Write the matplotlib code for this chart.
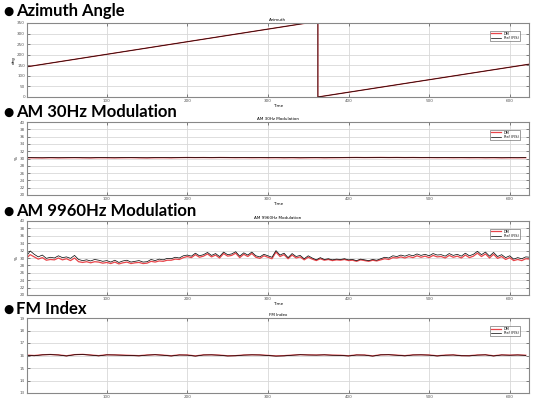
import numpy as np
import matplotlib
matplotlib.use("Agg")
import matplotlib.pyplot as plt

# ---- data ----
az_t = [1, 362, 362, 624]
az_ref = [143, 358, 0, 155]
az_meas = [143, 358, 0, 155]

t5 = np.arange(0, 630, 5)
am9960_meas = [30.4, 31.9, 31.0, 30.3, 30.8, 29.9, 30.2, 30.0, 30.6, 30.1,
               30.3, 29.9, 30.7, 29.6, 29.3, 29.5, 29.2, 29.6, 29.4, 29.1,
               29.3, 28.9, 29.4, 28.8, 29.2, 29.4, 28.9, 29.1, 29.3, 28.9,
               29.0, 29.6, 29.3, 29.7, 29.5, 29.9, 29.8, 30.2, 30.0, 30.6,
               30.8, 30.5, 31.3, 30.6, 30.9, 31.5, 30.7, 31.2, 30.4, 31.6,
               30.9, 31.1, 31.7, 30.5, 31.4, 30.8, 31.6, 30.6, 30.3, 31.0,
               30.6, 30.2, 32.0, 30.8, 31.3, 30.1, 31.2, 30.4, 30.7, 29.8,
               30.6, 30.0, 29.5, 30.1, 29.6, 29.8, 29.5, 29.7, 29.6, 29.8,
               29.5, 29.6, 29.3, 29.7, 29.5, 29.3, 29.6, 29.4, 29.8, 30.2,
               30.0, 30.6, 30.4, 30.8, 30.5, 30.9, 30.6, 31.1, 30.7, 31.0,
               30.6, 31.2, 30.8, 30.9, 30.5, 31.2, 30.7, 31.0, 30.5, 31.3,
               30.6, 31.0, 31.8, 30.9, 31.6, 30.5, 31.5, 30.4, 30.9, 30.1,
               30.6, 29.7, 30.1, 29.8, 30.3, 30.2]
am9960_ref = [29.9, 30.9, 30.3, 29.7, 30.1, 29.4, 29.6, 29.5, 30.0, 29.5,
              29.8, 29.3, 30.0, 29.0, 28.8, 29.0, 28.7, 29.0, 28.9, 28.6,
              28.8, 28.5, 28.9, 28.4, 28.7, 28.9, 28.5, 28.7, 28.8, 28.5,
              28.6, 29.1, 28.9, 29.2, 29.1, 29.4, 29.4, 29.7, 29.6, 30.1,
              30.4, 30.1, 30.9, 30.2, 30.5, 31.1, 30.3, 30.8, 30.0, 31.2,
              30.5, 30.7, 31.3, 30.1, 31.0, 30.4, 31.2, 30.2, 29.9, 30.6,
              30.2, 29.8, 31.6, 30.4, 30.9, 29.8, 30.8, 30.0, 30.3, 29.5,
              30.2, 29.7, 29.3, 29.8, 29.4, 29.6, 29.3, 29.5, 29.4, 29.6,
              29.3, 29.4, 29.1, 29.5, 29.3, 29.1, 29.4, 29.2, 29.5, 29.8,
              29.6, 30.1, 30.0, 30.3, 30.0, 30.4, 30.1, 30.6, 30.2, 30.5,
              30.1, 30.7, 30.3, 30.4, 30.0, 30.7, 30.2, 30.5, 30.0, 30.8,
              30.1, 30.5, 31.3, 30.4, 31.1, 30.0, 31.0, 29.9, 30.4, 29.6,
              30.1, 29.3, 29.6, 29.3, 29.8, 29.7]

t10 = np.arange(0, 630, 10)
am30_meas = [30.25, 30.22, 30.20, 30.24, 30.21, 30.23, 30.26, 30.22, 30.20, 30.25,
             30.23, 30.21, 30.24, 30.27, 30.22, 30.20, 30.24, 30.25, 30.22, 30.28,
             30.30, 30.27, 30.29, 30.26, 30.30, 30.28, 30.25, 30.27, 30.24, 30.26,
             30.23, 30.25, 30.22, 30.24, 30.21, 30.23, 30.25, 30.22, 30.24, 30.26,
             30.28, 30.30, 30.27, 30.29, 30.31, 30.28, 30.30, 30.27, 30.29, 30.26,
             30.28, 30.25, 30.27, 30.24, 30.26, 30.23, 30.25, 30.22, 30.24, 30.21,
             30.23, 30.22, 30.24]
am30_ref = [30.20, 30.18, 30.16, 30.20, 30.17, 30.19, 30.22, 30.18, 30.16, 30.21,
            30.19, 30.17, 30.20, 30.23, 30.18, 30.16, 30.20, 30.21, 30.18, 30.24,
            30.27, 30.24, 30.26, 30.23, 30.27, 30.25, 30.22, 30.24, 30.21, 30.23,
            30.20, 30.22, 30.19, 30.21, 30.18, 30.20, 30.22, 30.19, 30.21, 30.23,
            30.26, 30.28, 30.25, 30.27, 30.29, 30.26, 30.28, 30.25, 30.27, 30.24,
            30.25, 30.22, 30.24, 30.21, 30.23, 30.20, 30.22, 30.19, 30.21, 30.18,
            30.20, 30.19, 30.21]

fm_meas = [16.02, 15.98, 16.05, 16.07, 16.04, 15.96, 16.06, 16.08, 16.03, 15.97,
           16.05, 16.04, 16.02, 16.00, 15.97, 16.03, 16.06, 16.02, 15.96, 16.04,
           16.03, 15.95, 16.04, 16.05, 16.02, 15.96, 15.98, 16.03, 16.05, 16.04,
           16.00, 15.95, 15.97, 16.02, 16.06, 16.04, 16.03, 16.05, 16.02, 16.01,
           15.96, 16.04, 16.03, 15.95, 16.05, 16.06, 16.02, 15.97, 16.04, 16.05,
           16.03, 15.96, 16.02, 16.04, 15.98, 15.97, 16.03, 16.05, 15.96, 16.04,
           16.02, 16.04, 16.01]
fm_ref = [16.03, 16.00, 16.06, 16.08, 16.05, 15.98, 16.07, 16.09, 16.04, 15.99,
          16.06, 16.05, 16.03, 16.01, 15.99, 16.04, 16.07, 16.03, 15.98, 16.05,
          16.04, 15.97, 16.05, 16.06, 16.03, 15.98, 15.99, 16.04, 16.06, 16.05,
          16.01, 15.97, 15.99, 16.03, 16.07, 16.05, 16.04, 16.06, 16.03, 16.02,
          15.98, 16.05, 16.04, 15.97, 16.06, 16.07, 16.03, 15.99, 16.05, 16.06,
          16.04, 15.98, 16.03, 16.05, 15.99, 15.99, 16.04, 16.06, 15.98, 16.05,
          16.03, 16.05, 16.02]

headings = ["Azimuth Angle", "AM 30Hz Modulation", "AM 9960Hz Modulation", "FM Index"]
small_titles = ["Azimuth", "AM 30Hz Modulation", "AM 9960Hz Modulation", "FM Index"]
ylabels = ["deg", "%", "%", ""]
legend_labels = ["DM", "Ref (FIS)"]

# ---- layout (pixels) ----
W, H = 533, 398
fig = plt.figure(figsize=(W / 100, H / 100), dpi=100)

def px_axes(left, top, right, bottom):
    return fig.add_axes([left / W, 1 - bottom / H, (right - left) / W, (bottom - top) / H])

boxes = [(27, 23, 529, 97), (27, 122, 529, 195), (27, 221, 529, 295), (27, 318, 529, 393)]
head_y = [11, 112, 211, 309]

series = [
    (az_t, az_ref, az_meas, (0, 350), np.arange(0, 351, 50)),
    (t10, am30_ref, am30_meas, (20, 40), np.arange(20, 41, 2)),
    (t5, am9960_ref, am9960_meas, (20, 40), np.arange(20, 41, 2)),
    (t10, fm_ref, fm_meas, (13, 19), np.arange(13, 20, 1)),
]

red = "#e8454a"
for i, (box, (t, ref, meas, ylim, yt)) in enumerate(zip(boxes, series)):
    ax = px_axes(*box)
    ax.plot(t, ref, color=red, lw=0.9, label=legend_labels[0])
    ax.plot(t, meas, color="black", lw=0.5, label=legend_labels[1])
    ax.set_xlim(1, 624)
    ax.set_ylim(*ylim)
    ax.set_yticks(yt)
    ax.set_xticks([100, 200, 300, 400, 500, 600])
    ax.grid(True, color="#d8d8d8", lw=0.6)
    ax.tick_params(direction="in", length=2, width=0.5, labelsize=3,
                   top=True, right=True, pad=1.5, colors="#555555")
    for s in ax.spines.values():
        s.set_color("#888888")
        s.set_linewidth(0.8)
    ax.set_title(small_titles[i], fontsize=3, pad=1.5)
    if i < 3:
        ax.set_xlabel("Time", fontsize=3, labelpad=1)
    if ylabels[i]:
        ax.set_ylabel(ylabels[i], fontsize=3, labelpad=1)
    leg = ax.legend(loc="upper right", fontsize=2.5, frameon=True, fancybox=False,
                    handlelength=3, borderpad=0.3, labelspacing=0.1,
                    bbox_to_anchor=(0.985, 0.92))
    leg.get_frame().set_edgecolor("#555555")
    leg.get_frame().set_linewidth(0.5)
    fig.text(3 / W, 1 - head_y[i] / H, "\u25cf", fontsize=8.5,
             va="center", ha="left")
    fig.text(16 / W, 1 - head_y[i] / H, headings[i], fontsize=12,
             fontweight="bold", family="Lato", va="center", ha="left")

fig.savefig("out.png", dpi=100)
